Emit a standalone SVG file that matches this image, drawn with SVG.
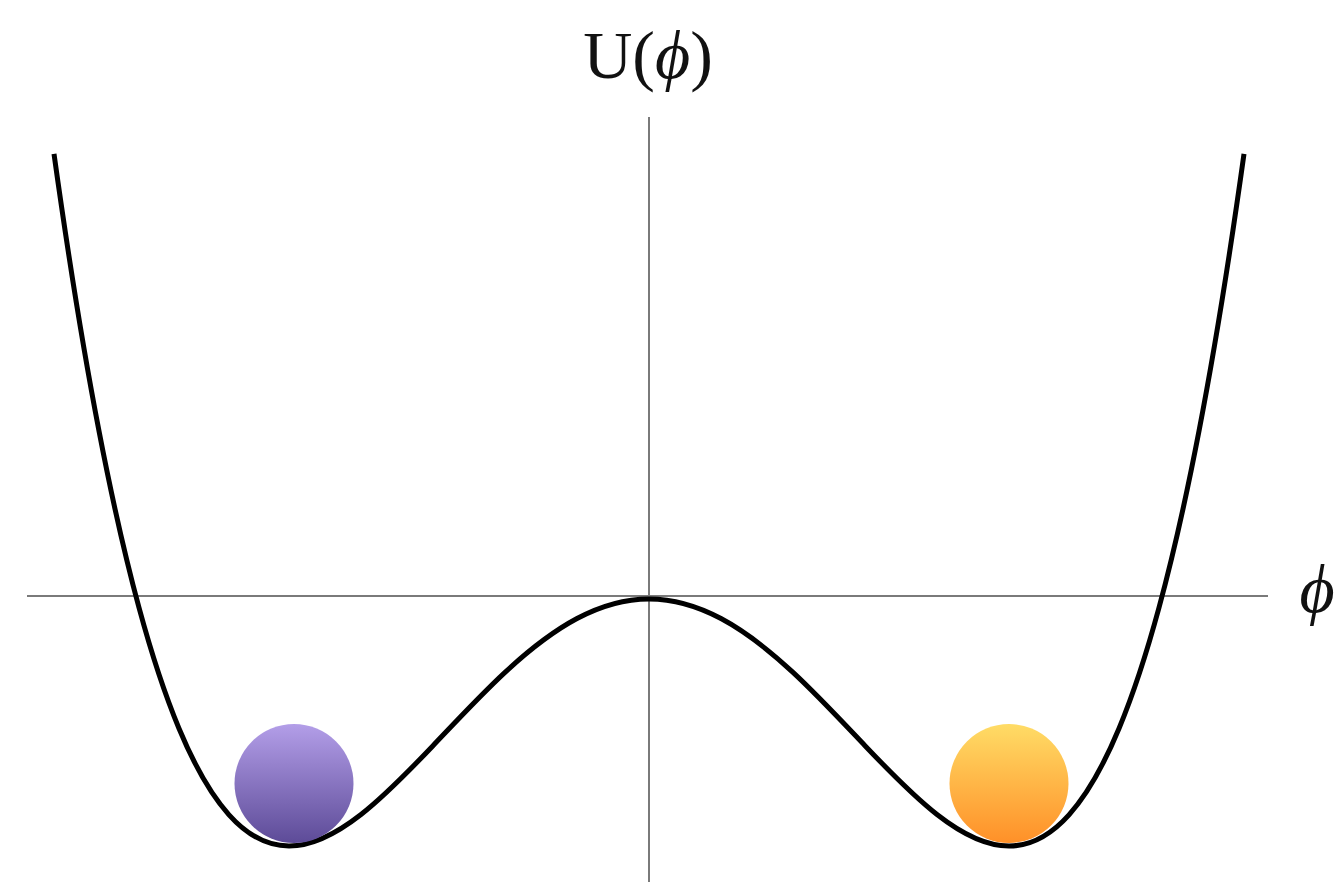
<svg xmlns="http://www.w3.org/2000/svg" width="1338" height="882" viewBox="0 0 1338 882">
<style>
.axis{stroke:#7a7a7a;stroke-width:2;fill:none}
.curve{stroke:#000;stroke-width:5;fill:none;stroke-linejoin:round}
.lbl{font-family:"Liberation Serif","DejaVu Serif",serif;font-size:68px;fill:#111}
.it{font-style:italic}
</style>
<defs>
<linearGradient id="gPurple" x1="0" y1="0" x2="0" y2="1">
<stop offset="0" stop-color="#b39ee8"/>
<stop offset="1" stop-color="#5d4b98"/>
</linearGradient>
<linearGradient id="gOrange" x1="0" y1="0" x2="0" y2="1">
<stop offset="0" stop-color="#ffdc66"/>
<stop offset="1" stop-color="#ff9028"/>
</linearGradient>
</defs>
<g id="axes">
<line class="axis" x1="649" y1="117" x2="649" y2="882"/>
<line class="axis" x1="27" y1="596" x2="1268" y2="596"/>
</g>
<g id="potential">
<path class="curve" d="M 54,153.9 C 69,261.57 84,353.18 99,431.05 C 112.33,500.27 125.67,558.61 139,607.67 C 152.33,656.73 165.67,696.5 179,728.5 C 195.67,768.5 212.33,796.24 229,814.8 C 249,837.07 269,846.01 289,846.01 C 313,846.01 337,833.25 361,814.49 C 385,795.73 409,770.97 433,745.7 C 457,720.43 481,694.65 505,672.38 C 529,650.11 553,631.36 577,618.58 C 601,605.8 625,599 649,599 C 673,599 697,605.8 721,618.58 C 745,631.36 769,650.11 793,672.38 C 817,694.65 841,720.43 865,745.7 C 889,770.97 913,795.73 937,814.49 C 961,833.25 985,846.01 1009,846.01 C 1029,846.01 1049,837.07 1069,814.8 C 1085.67,796.24 1102.33,768.5 1119,728.5 C 1132.33,696.5 1145.67,656.73 1159,607.67 C 1172.33,558.61 1185.67,500.27 1199,431.05 C 1214,353.18 1229,261.57 1244,153.9"/>
</g>
<g id="ball-left">
<circle cx="294" cy="783.5" r="59.5" fill="url(#gPurple)"/>
</g>
<g id="ball-right">
<circle cx="1009" cy="783.5" r="59.5" fill="url(#gOrange)"/>
</g>
<g id="label-U">
<text class="lbl" x="648" y="78" text-anchor="middle">U(<tspan class="it">ϕ</tspan>)</text>
</g>
<g id="label-phi">
<text class="lbl it" x="1317" y="612" text-anchor="middle">ϕ</text>
</g>
</svg>
